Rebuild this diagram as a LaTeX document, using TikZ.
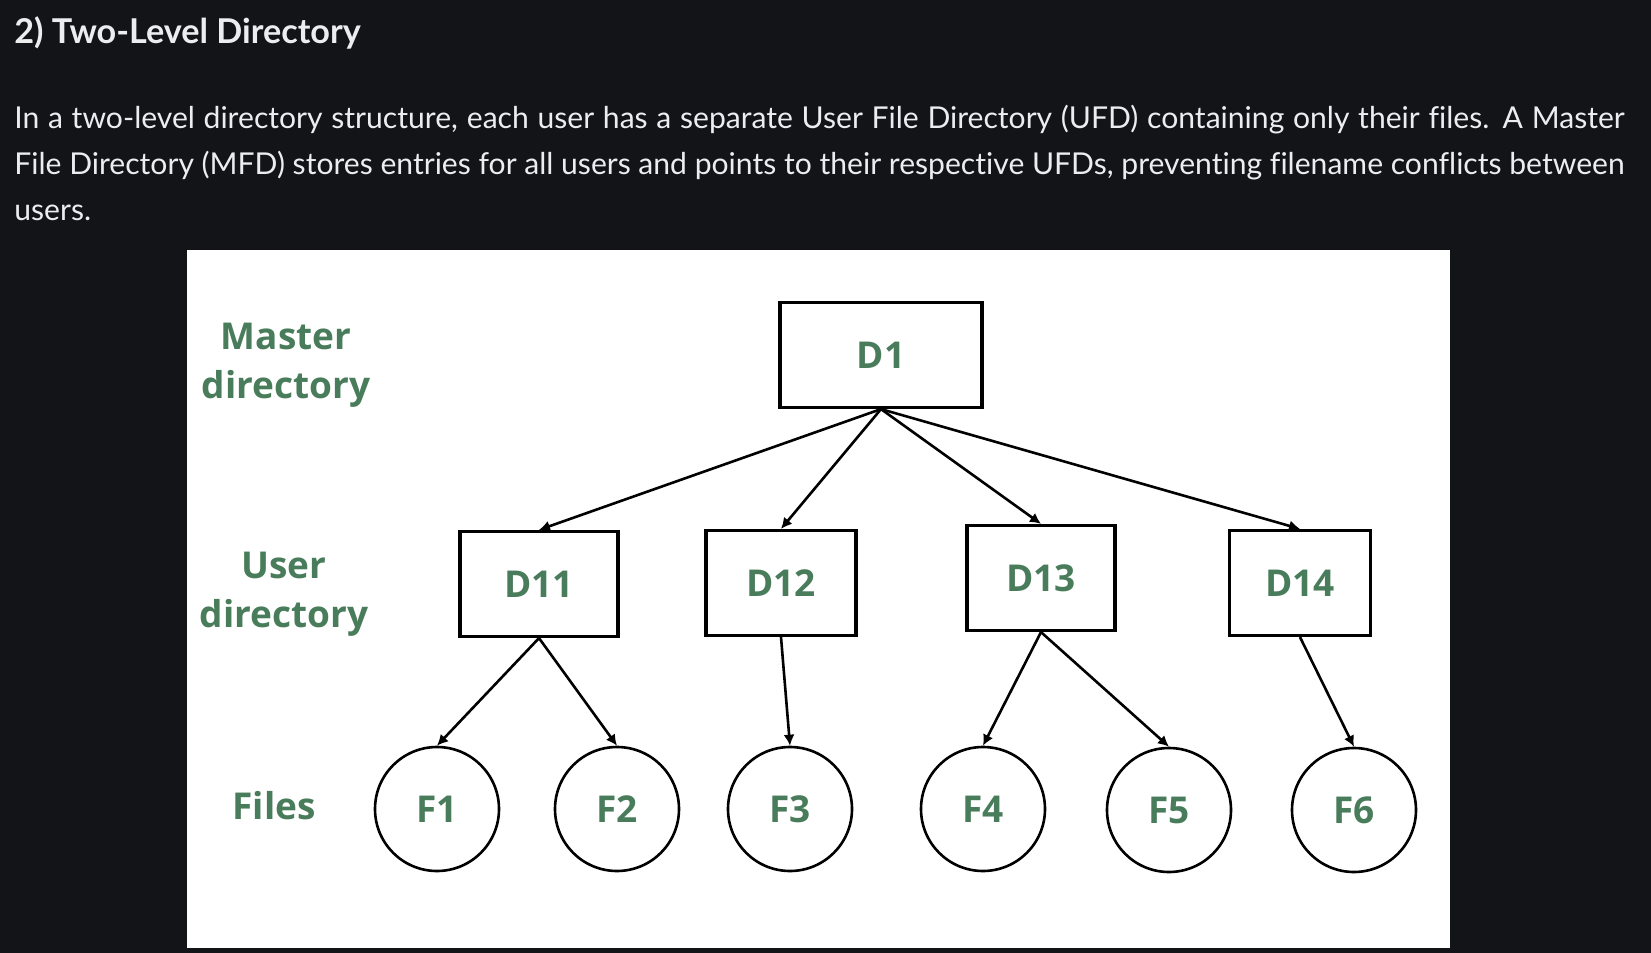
\documentclass[tikz,border=0pt]{standalone}
\usepackage{xcolor}
\usepackage{fontspec}
\setmainfont{Lato}[Ligatures=NoCommon]
\newfontfamily\diagfont{Open Sans}
\usepackage{tikz}
\usetikzlibrary{arrows.meta, positioning}
\definecolor{pagebg}{RGB}{19,20,23}
\definecolor{headtext}{RGB}{236,237,238}
\definecolor{labelgreen}{RGB}{72,124,90}
\tikzstyle{dirbox} = [rectangle, draw, line width=1.6pt, minimum height=52.5pt,
    text=labelgreen, font=\diagfont\bfseries\fontsize{18.5}{22}\selectfont]
\tikzstyle{filenode} = [circle, draw, line width=1.3pt, minimum size=62pt,
    text=labelgreen, font=\diagfont\bfseries\fontsize{18.5}{22}\selectfont]
\tikzstyle{level} = [align=center, text=labelgreen,
    font=\diagfont\bfseries\fontsize{18.5}{24.5}\selectfont]
\tikzstyle{line} = [draw, line width=1.3pt, -{Latex[length=5.5pt,width=5.5pt]}]
\begin{document}
\begin{tikzpicture}[x=0.5pt, y=-0.5pt]
      \useasboundingbox (0,0) rectangle (1651,953);
      \fill [pagebg] (0,0) rectangle (1651,953);
      % Heading and text
      \node [anchor=base west, inner sep=0pt, text=headtext, font=\bfseries\fontsize{17.1}{20}\selectfont] (title) at (14,43) {2) Two-Level Directory};
      \node [anchor=base west, inner sep=0pt, text width=805pt, align=justify, text=headtext, font=\fontsize{15.05}{23}\selectfont] (intro) at (14,128) {In a two-level directory structure, each user has a separate User File Directory (UFD) containing only their files. A Master\linebreak File Directory (MFD) stores entries for all users and points to their respective UFDs, preventing filename conflicts between\linebreak users.};
      % Panel
      \fill [white] (187,250) rectangle (1450,948);
      % Levels
      \node [level, anchor=base] (master-label) at (286,398) {Master\\directory};
      \node [level, anchor=base] (user-label) at (284,627) {User\\directory};
      \node [level, anchor=base] (files-label) at (274,819) {Files};
      % Directories
      \node [dirbox, minimum width=101pt] (d1) at (881,355) {D1};
      \node [dirbox, minimum width=79pt] (d11) at (539,584) {D11};
      \node [dirbox, minimum width=75pt] (d12) at (781,583) {D12};
      \node [dirbox, minimum width=74pt] (d13) at (1041,578) {D13};
      \node [dirbox, minimum width=70.5pt] (d14) at (1300,583) {D14};
      % Files
      \node [filenode] (f1) at (437,809) {F1};
      \node [filenode] (f2) at (617,809) {F2};
      \node [filenode] (f3) at (790,809) {F3};
      \node [filenode] (f4) at (983,809) {F4};
      \node [filenode] (f5) at (1169,810) {F5};
      \node [filenode] (f6) at (1354,810) {F6};
      % Draw edges
      \path [line] (d1.south) -- (d11.north);
      \path [line] (d1.south) -- (d12.north);
      \path [line] (d1.south) -- (d13.north);
      \path [line] (d1.south) -- (d14.north);
      \path [line] (d11.south) -- (f1.north);
      \path [line] (d11.south) -- (f2.north);
      \path [line] (d12.south) -- (f3.north);
      \path [line] (d13.south) -- (f4.north);
      \path [line] (d13.south) -- (f5.north);
      \path [line] (d14.south) -- (f6.north);
    \end{tikzpicture}
\end{document}
